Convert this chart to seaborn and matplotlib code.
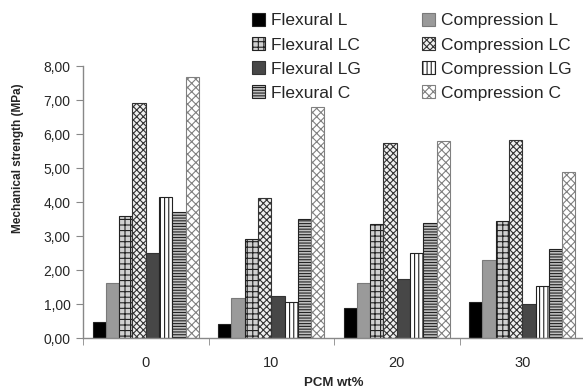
import pandas as pd
import matplotlib
matplotlib.use("Agg")
import matplotlib.pyplot as plt
import seaborn as sns
from matplotlib.ticker import FuncFormatter, FixedLocator

# data
pcm = ["0", "10", "20", "30"]
series = ["Flexural L", "Compression L", "Flexural LC", "Compression LC",
          "Flexural LG", "Compression LG", "Flexural C", "Compression C"]
flex_l = [0.47, 0.40, 0.87, 1.07]
comp_l = [1.63, 1.18, 1.61, 2.30]
flex_lc = [3.58, 2.90, 3.34, 3.45]
comp_lc = [6.90, 4.11, 5.73, 5.83]
flex_lg = [2.49, 1.25, 1.75, 1.00]
comp_lg = [4.16, 1.05, 2.51, 1.54]
flex_c = [3.70, 3.50, 3.39, 2.61]
comp_c = [7.69, 6.80, 5.79, 4.89]
values = [flex_l, comp_l, flex_lc, comp_lc, flex_lg, comp_lg, flex_c, comp_c]

rows = []
for name, vals in zip(series, values):
    for p, v in zip(pcm, vals):
        rows.append({"PCM": p, "series": name, "value": v})
df = pd.DataFrame(rows)

# fill, hatch, edge per series
faces = ["black", "#9a9a9a", "#d0d0d0", "#f0f0f0", "#474747", "white", "#c0c0c0", "white"]
hatches = [None, None, "+++", "xxxxx", None, "||||", "------", "xxxx"]
edges = ["#222222", "#7a7a7a", "#222222", "#333333", "#333333", "#222222", "#222222", "#808080"]

sns.set_style("white")
plt.rcParams["font.family"] = ["Liberation Sans", "DejaVu Sans"]
plt.rcParams["hatch.linewidth"] = 0.8

fig = plt.figure(figsize=(5.83, 3.89), dpi=100)
ax = fig.add_axes([83 / 583, 51 / 389, 502 / 583, 272 / 389])

sns.barplot(data=df, x="PCM", y="value", hue="series", hue_order=series,
            order=pcm, palette=faces, width=0.845, gap=0, saturation=1,
            legend=False, ax=ax)

for cont, fc, h, ec in zip(ax.containers, faces, hatches, edges):
    for bar in cont:
        bar.set_facecolor(fc)
        bar.set_edgecolor(ec)
        bar.set_linewidth(0.8)
        if h:
            bar.set_hatch(h)

ax.set_ylim(0, 8)
ax.set_xlim(-0.5, 3.5)
ax.yaxis.set_major_formatter(FuncFormatter(lambda v, _: f"{v:.2f}".replace(".", ",")))
ax.tick_params(axis="y", length=5, color="#888888", labelsize=10, left=True, pad=4)
ax.tick_params(axis="x", which="major", length=0, labelsize=10.5, pad=13)
ax.xaxis.set_minor_locator(FixedLocator([-0.5, 0.5, 1.5, 2.5, 3.5]))
ax.tick_params(axis="x", which="minor", length=5, color="#888888", bottom=True)

for s in ["top", "right"]:
    ax.spines[s].set_visible(False)
for s in ["left", "bottom"]:
    ax.spines[s].set_color("#888888")
    ax.spines[s].set_linewidth(1)

ax.set_xlabel("PCM wt%", fontsize=9.5, fontweight="bold", labelpad=5)
ax.set_ylabel("")
fig.text(18 / 583, 1 - 158 / 389, "Mechanical strength (MPa)", rotation=90,
         ha="center", va="center", fontsize=8.5, fontweight="bold")

handles = [ax.containers[i] for i in [0, 2, 4, 6, 1, 3, 5, 7]]
labels = [series[i] for i in [0, 2, 4, 6, 1, 3, 5, 7]]
fig.legend(handles, labels, loc="upper left", bbox_to_anchor=(252 / 583, 1 - 13 / 389),
           ncol=2, frameon=False, fontsize=12.5, handlelength=0.75, handleheight=0.75,
           handletextpad=0.35, labelspacing=0.5, columnspacing=3.5,
           borderpad=0, borderaxespad=0)

fig.savefig("out.png", dpi=100)
